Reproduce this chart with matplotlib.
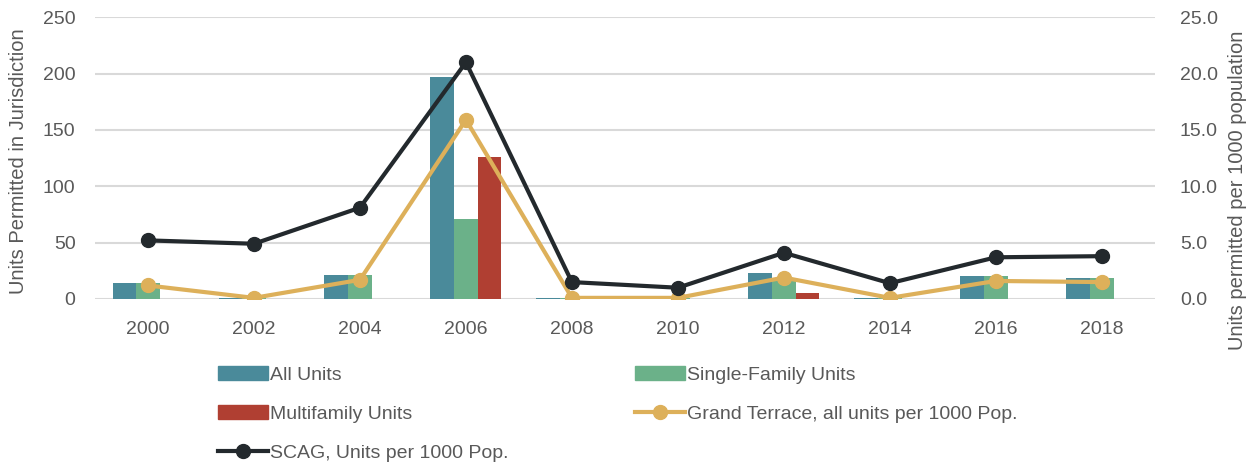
import numpy as np
import matplotlib.pyplot as plt
from matplotlib.lines import Line2D
from matplotlib.patches import Patch

years = ["2000", "2002", "2004", "2006", "2008", "2010", "2012", "2014", "2016", "2018"]
all_units = [14, 1, 21, 197, 1, 1, 23, 1, 20, 19]
single_family = [14, 1, 21, 71, 1, 1, 18, 1, 20, 19]
multifamily = [0, 0, 0, 126, 0, 0, 5, 0, 0, 0]
grand_terrace = [1.2, 0.1, 1.7, 15.9, 0.1, 0.1, 1.9, 0.1, 1.6, 1.5]
scag = [5.2, 4.9, 8.1, 21.0, 1.5, 1.0, 4.1, 1.4, 3.7, 3.8]

c_all = "#4a8a9a"
c_sf = "#6bb189"
c_mf = "#b03f32"
c_gt = "#ddb05a"
c_scag = "#23292d"
c_txt = "#595959"
c_grid = "#d9d9d9"

plt.rcParams['font.family'] = ['Liberation Sans', 'DejaVu Sans']

fig = plt.figure(figsize=(12.58, 4.65), dpi=100)
ax = fig.add_axes([0.0755, 0.357, 0.8425, 0.606])
ax2 = ax.twinx()

x = np.arange(len(years))
w = 0.223
ax.bar(x - w, all_units, w, color=c_all, zorder=2)
ax.bar(x, single_family, w, color=c_sf, zorder=2)
ax.bar(x + w, multifamily, w, color=c_mf, zorder=2)

ax2.plot(x, grand_terrace, color=c_gt, lw=3, marker="o", ms=10, zorder=3)
ax2.plot(x, scag, color=c_scag, lw=3, marker="o", ms=10, zorder=4)

ax.set_xlim(-0.5, 9.5)
ax.set_ylim(0, 250)
ax2.set_ylim(0, 25)
ax.set_yticks(range(0, 251, 50))
ax2.set_yticks(range(0, 26, 5))
ax2.set_yticklabels([f"{v:.1f}" for v in range(0, 26, 5)])
ax.set_xticks(x)
ax.set_xticklabels(years)

ax.yaxis.grid(True, color=c_grid, lw=1.5, zorder=0)
ax.set_axisbelow(True)
for a in (ax, ax2):
    for s in a.spines.values():
        s.set_visible(False)
    a.tick_params(length=0, labelsize=14, colors=c_txt)
ax.tick_params(axis="x", pad=16)
ax.tick_params(axis="y", pad=14)
ax2.tick_params(axis="y", pad=18)

ax.set_ylabel("Units Permitted in Jurisdiction", fontsize=14.5, color=c_txt)
ax.yaxis.set_label_coords(-0.063, 0.49)
ax2.set_ylabel("Units permitted per 1000 population", fontsize=14.5, color=c_txt)
ax2.yaxis.set_label_coords(1.069, 0.387)

handles = [
    Patch(color=c_all, label="All Units"),
    Patch(color=c_mf, label="Multifamily Units"),
    Line2D([], [], color=c_scag, lw=3, marker="o", ms=10, label="SCAG, Units per 1000 Pop."),
    Patch(color=c_sf, label="Single-Family Units"),
    Line2D([], [], color=c_gt, lw=3, marker="o", ms=10, label="Grand Terrace, all units per 1000 Pop."),
]
leg = fig.legend(handles=handles, ncol=2, loc="upper left", bbox_to_anchor=(0.159, 0.25),
                 frameon=False, handlelength=2.6, handleheight=0.7, handletextpad=0.1,
                 columnspacing=6.5, labelspacing=1.1,
                 prop={"size": 14})
for t in leg.get_texts():
    t.set_color(c_txt)

fig.savefig("out.png", dpi=100)
